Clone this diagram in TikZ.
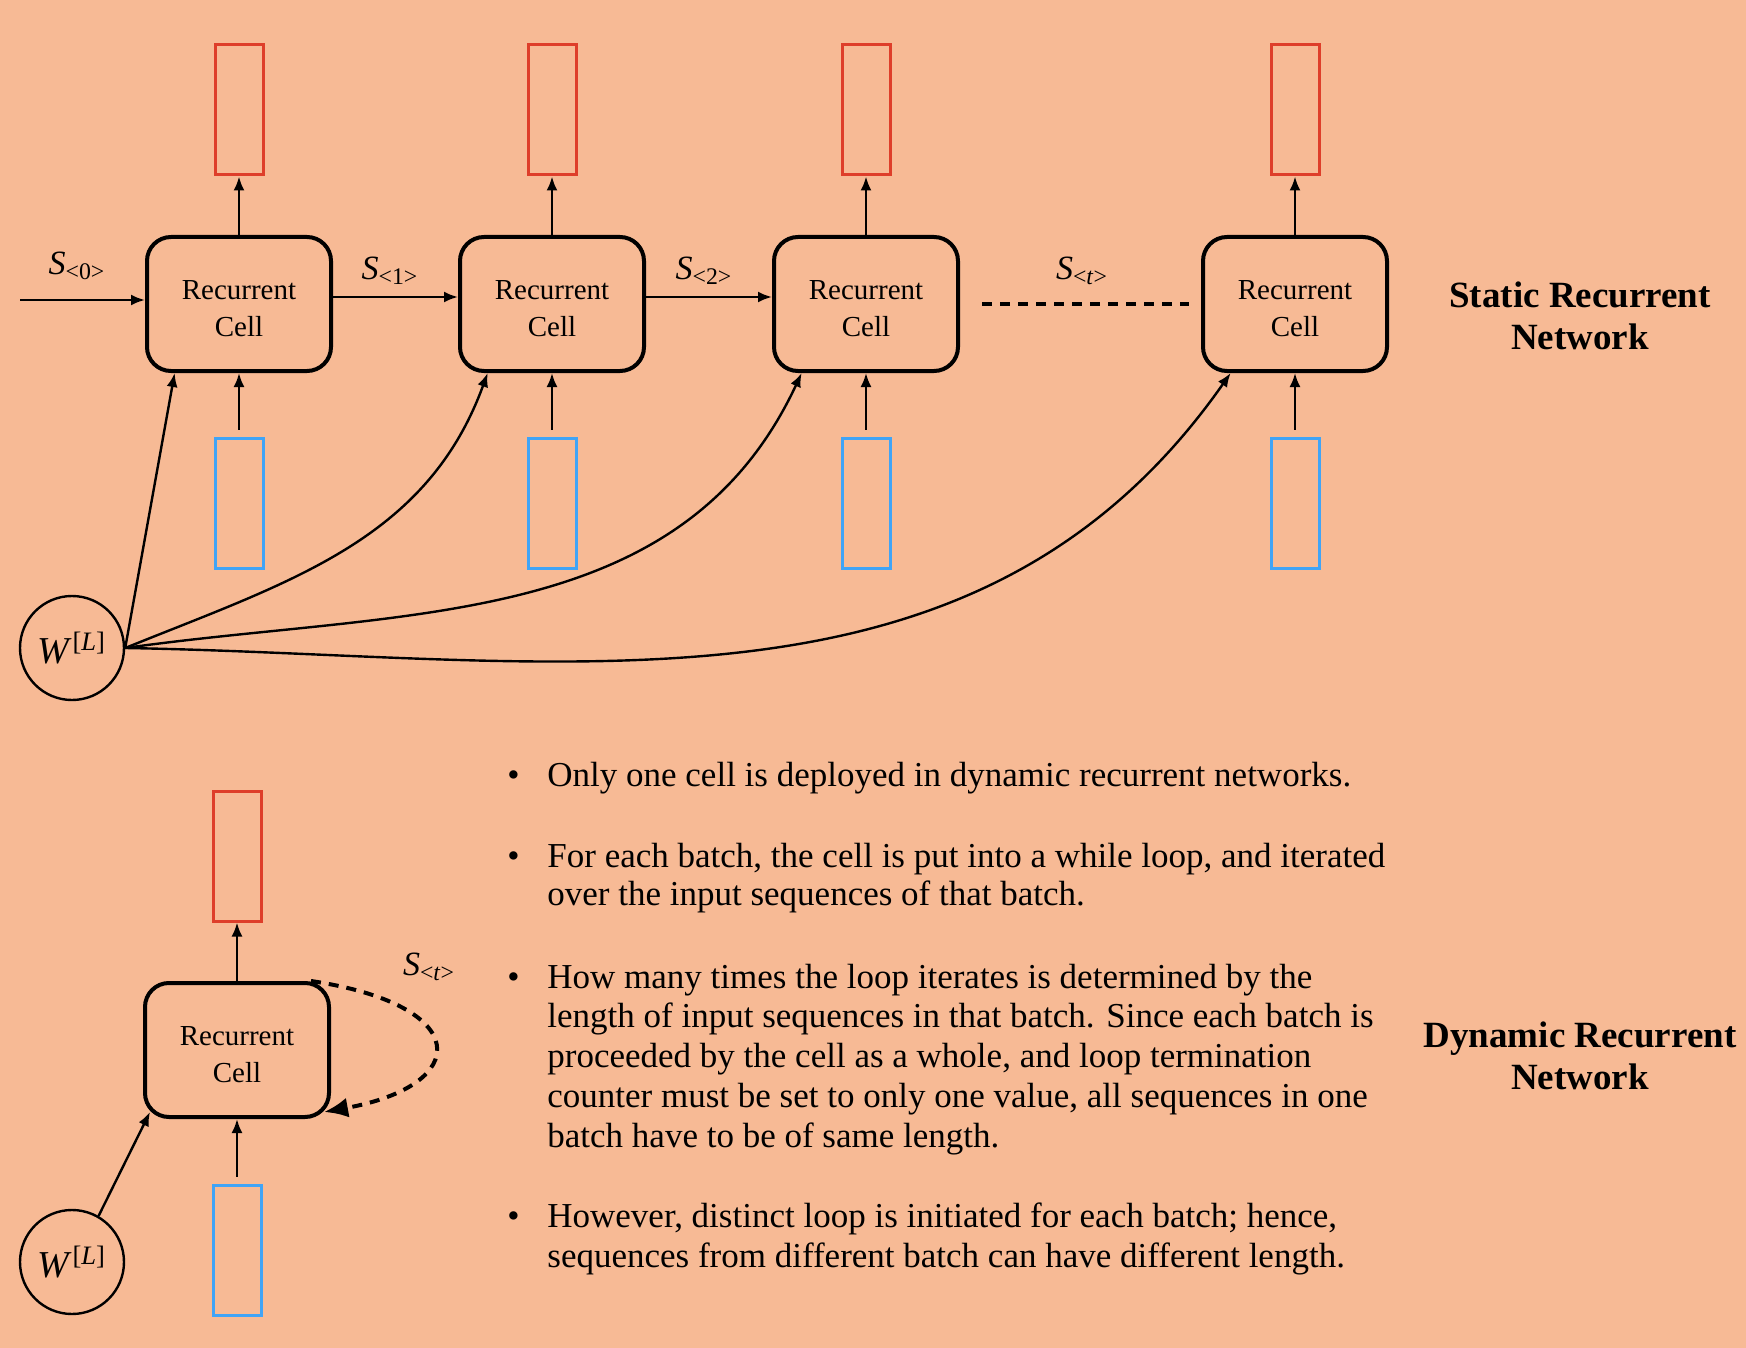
\documentclass[tikz,border=0pt]{standalone}
\usepackage{fontspec}
\setmainfont{Liberation Serif}
\usetikzlibrary{arrows.meta}

\definecolor{peach}{RGB}{247,186,149}
\definecolor{outred}{RGB}{222,62,42}
\definecolor{inblue}{RGB}{64,164,246}

\newcommand{\Sstate}[1]{\textit{S}\textsubscript{<#1>}}
\newcommand{\Wlayer}{\textit{W}\textsuperscript{[\textit{L}]}}
\newcommand{\celltext}{\rule{0pt}{14.5pt}Recurrent\\Cell}

\begin{document}
\begin{tikzpicture}[x=0.5pt, y=-0.5pt,
    cell/.style={draw, line width=2pt, rounded corners=12pt, minimum width=92pt,
      minimum height=67pt, align=center, font=\fontsize{14.5}{18.5}\selectfont},
    outbox/.style={draw=outred, line width=1.5pt, minimum width=24pt,
      minimum height=65pt, inner sep=0pt},
    inbox/.style={draw=inblue, line width=1.5pt, minimum width=24pt,
      minimum height=65pt, inner sep=0pt},
    wnode/.style={circle, draw, line width=1.2pt, minimum size=52pt, inner sep=0pt,
      font=\fontsize{19}{21}\selectfont},
    slabel/.style={inner sep=0pt, font=\fontsize{17}{19}\selectfont},
    title/.style={align=center, inner sep=0pt, font=\fontsize{18.5}{21}\selectfont\bfseries},
    arr/.style={-{Latex[length=7pt,width=5.5pt]}, line width=1.2pt},
    dashline/.style={line width=2pt, dash pattern=on 5pt off 4pt},
    txt/.style={anchor=base west, inner sep=0pt, font=\fontsize{17.5}{20}\selectfont}]

    % Background
    \fill[peach] (0,0) rectangle (1746,1348);

    % Static network: cells with outputs and inputs
    \foreach \i/\x in {1/239, 2/552, 3/866, 4/1295} {
        \node[cell] (c\i) at (\x,304) {\celltext};
        \node[outbox] (o\i) at (\x,110) {};
        \node[inbox] (in\i) at (\x,503) {};
        \draw[arr] (c\i) -- (o\i);
        \draw[arr, shorten <=3.5pt] (in\i) -- (c\i);
    }

    % States along the chain
    \coordinate (start) at (20,300);
    \draw[arr] (start) -- (start -| c1.west);
    \draw[arr] ([yshift=3.5pt]c1.east) -- ([yshift=3.5pt]c2.west);
    \draw[arr] ([yshift=3.5pt]c2.east) -- ([yshift=3.5pt]c3.west);
    \draw[dashline] ([xshift=11pt]c3.east) -- ([xshift=-6pt]c4.west);

    \node[slabel] (s0) at (77,266) {\Sstate{0}};
    \node[slabel] (s1) at (390,271) {\Sstate{1}};
    \node[slabel] (s2) at (704,271) {\Sstate{2}};
    \node[slabel] (st) at (1082,271) {\Sstate{\textit{t}}};

    % Shared weights
    \node[wnode] (w1) at (72,648) {\Wlayer};
    \draw[arr] (w1.east) -- (c1.-133);
    \draw[arr] (w1.east) to[out=22, in=-110] (c2.-133);
    \draw[arr] (w1.east) to[out=8, in=-115] (c3.-133);
    \draw[arr] (w1.east) to[out=-1, in=-125] (c4.-133);

    \node[title] (stat) at (1580,316) {Static Recurrent\\Network};

    % Dynamic network: one cell
    \node[cell] (cd) at (237,1050) {\celltext};
    \node[outbox] (od) at (237,856) {};
    \node[inbox] (ind) at (237,1250) {};
    \draw[arr] (cd) -- (od);
    \draw[arr, shorten <=3.5pt] (ind) -- (cd);

    \node[wnode] (wd) at (72,1262) {\Wlayer};
    \draw[arr] (wd.60) -- ([shift={(3.5pt,3.5pt)}]cd.south west);

    \draw[dashline, -{Latex[length=12pt,width=10pt]}] ([xshift=-10pt]cd.north east)
        .. controls (473,1005) and (473,1085) .. ([shift={(-3.5pt,3.5pt)}]cd.south east);
    \node[slabel] (sd) at (429,967) {\Sstate{\textit{t}}};

    \node[title] (dyn) at (1580,1056) {Dynamic Recurrent\\Network};

    % Notes
    \foreach \y [count=\k] in {786,867,988,1227}
        \node[txt] (b\k) at (507,\y) {\textbullet};
    \foreach \y/\words [count=\k] in {
        786/{Only one cell is deployed in dynamic recurrent networks.},
        867/{For each batch, the cell is put into a while loop, and iterated},
        905/{over the input sequences of that batch.},
        988/{How many times the loop iterates is determined by the},
        1027/{length of input sequences in that batch. Since each batch is},
        1067/{proceeded by the cell as a whole, and loop termination},
        1107/{counter must be set to only one value, all sequences in one},
        1147/{batch have to be of same length.},
        1227/{However, distinct loop is initiated for each batch; hence,},
        1267/{sequences from different batch can have different length.}}
        \node[txt] (t\k) at (547,\y) {\words};
\end{tikzpicture}
\end{document}
